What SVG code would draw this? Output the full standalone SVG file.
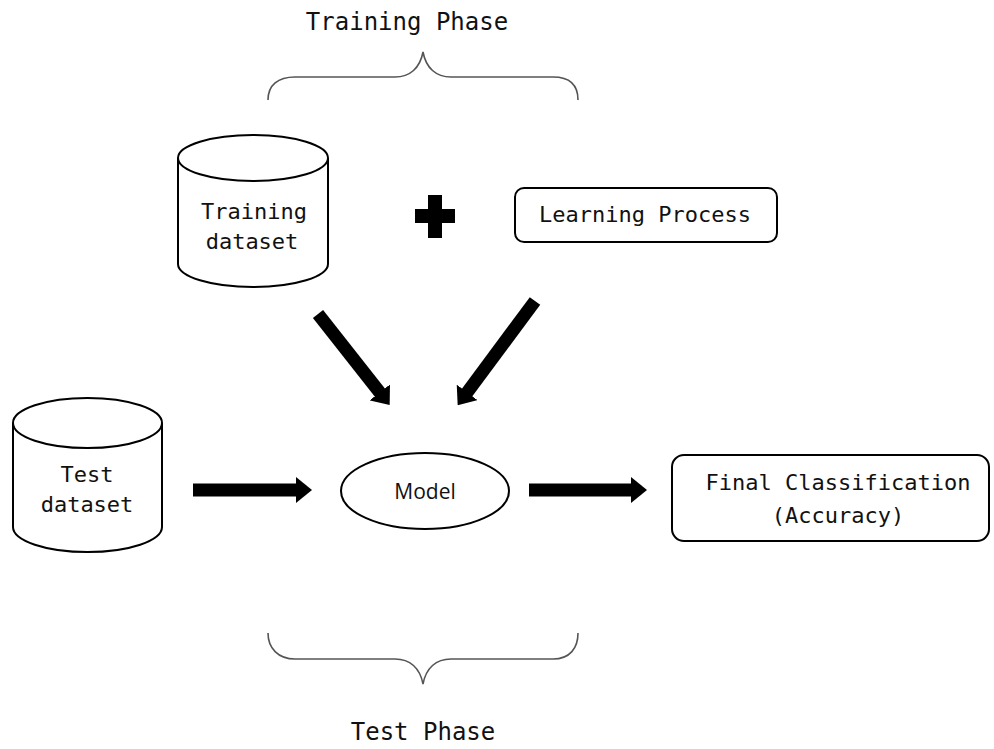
<svg xmlns="http://www.w3.org/2000/svg" width="994" height="749" viewBox="0 0 994 749">
<style>
.mono{font-family:"DejaVu Sans Mono","Liberation Mono",monospace;font-size:22px;fill:#111;text-anchor:middle}
.phase{font-size:24px}
.sans{font-family:"Open Sans","Liberation Sans",Arial,sans-serif;font-size:21px;fill:#111;text-anchor:middle}
.shape{fill:#fff;stroke:#000;stroke-width:2}
.brace{fill:none;stroke:#555;stroke-width:1.6}
.conn{stroke:#000;stroke-width:13;fill:none}
</style>
<defs>
<marker id="head" markerUnits="userSpaceOnUse" markerWidth="16" markerHeight="26" refX="2" refY="13" orient="auto">
<path d="M0,0 L16,13 L0,26 Z" fill="#000"/>
</marker>
</defs>
<rect width="994" height="749" fill="#fff"/>

<g id="training-phase">
<text class="mono phase" x="407" y="30">Training Phase</text>
<path class="brace" d="M268,100 C268,85 278,77 295,77 L395,77 C410,77 420,68 423,52 C426,68 436,77 451,77 L553,77 C570,77 578,85 578,100"/>
</g>

<g id="test-phase">
<path class="brace" d="M268,633 C268,648 278,659 295,659 L395,659 C410,659 420,668 423,684 C426,668 436,659 451,659 L553,659 C570,659 578,648 578,633"/>
<text class="mono phase" x="423" y="740">Test Phase</text>
</g>

<g id="training-dataset">
<path class="shape" d="M178,158 V264 A75,23 0 0,0 328,264 V158"/>
<ellipse class="shape" cx="253" cy="158" rx="75" ry="23"/>
<text class="mono" x="254" y="219">Training</text>
<text class="mono" x="252" y="249">dataset</text>
</g>

<g id="plus">
<rect x="428" y="195" width="14" height="43" fill="#000"/>
<rect x="415" y="209" width="40" height="14" fill="#000"/>
</g>

<g id="learning-process">
<rect class="shape" x="515" y="188" width="262" height="54" rx="9"/>
<text class="mono" x="645" y="222">Learning Process</text>
</g>

<g id="test-dataset">
<path class="shape" d="M13,423 V527 A74.5,25 0 0,0 162,527 V423"/>
<ellipse class="shape" cx="87.5" cy="423" rx="74.5" ry="25"/>
<text class="mono" x="87" y="482">Test</text>
<text class="mono" x="87" y="512">dataset</text>
</g>

<g id="model">
<ellipse class="shape" cx="425" cy="491" rx="84" ry="38"/>
<text class="sans" x="425" y="499">Model</text>
</g>

<g id="final-classification">
<rect class="shape" x="672" y="455" width="317" height="86" rx="12"/>
<text class="mono" x="838" y="490">Final Classification</text>
<text class="mono" x="838" y="523">(Accuracy)</text>
</g>

<g id="connectors">
<line class="conn" x1="318" y1="314" x2="381" y2="394" marker-end="url(#head)"/>
<line class="conn" x1="535" y1="301" x2="466" y2="394" marker-end="url(#head)"/>
<line class="conn" x1="193" y1="490" x2="298" y2="490" marker-end="url(#head)"/>
<line class="conn" x1="529" y1="490" x2="633" y2="490" marker-end="url(#head)"/>
</g>
</svg>
